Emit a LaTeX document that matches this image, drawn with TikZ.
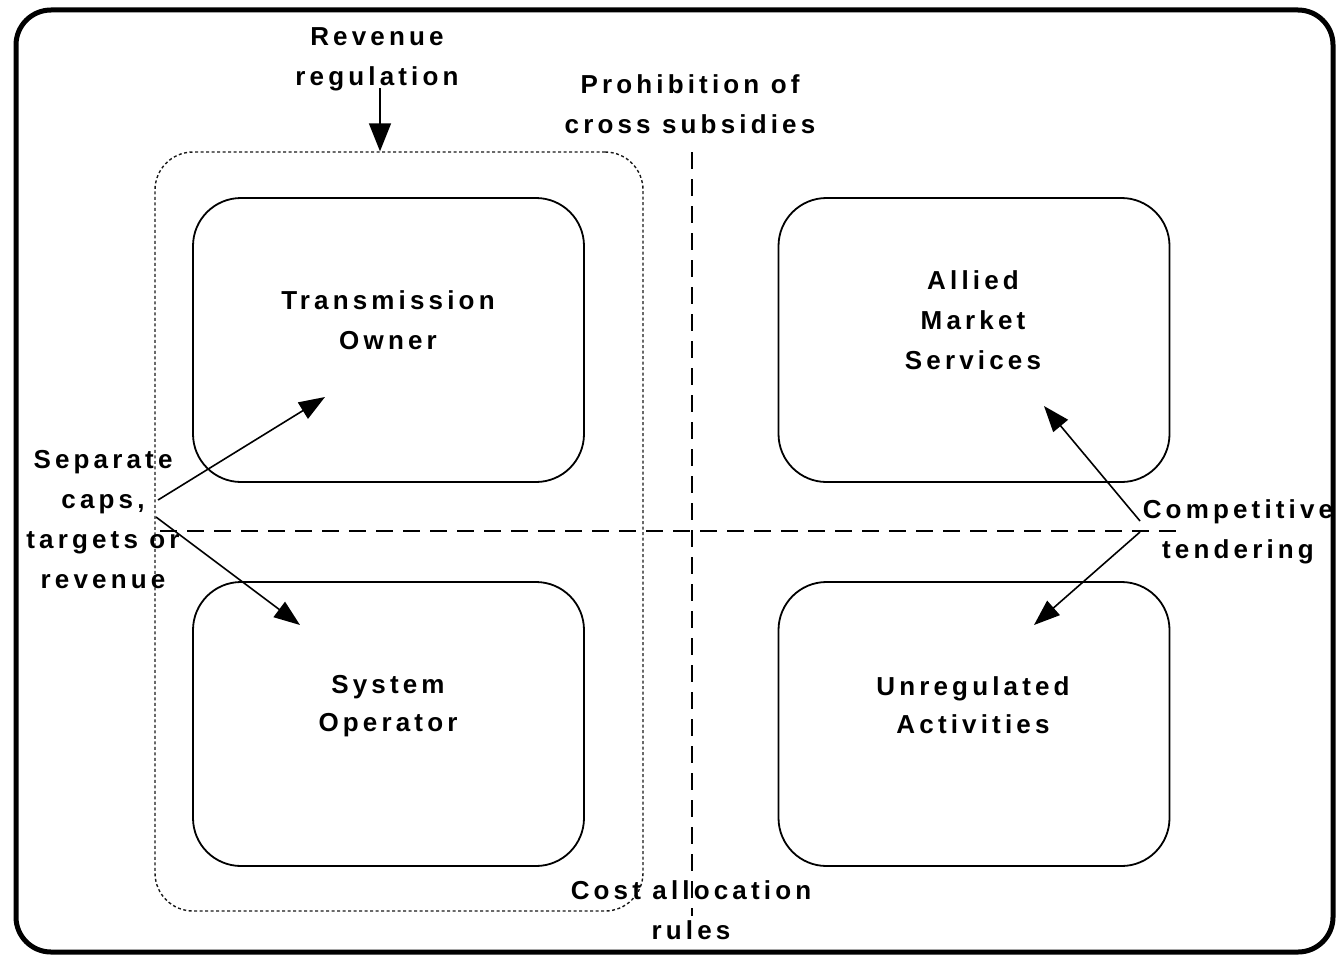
\documentclass[tikz,border=0pt]{standalone}
\usepackage{fontspec}
\setmainfont{Liberation Sans}[LetterSpace=16]
\usetikzlibrary{arrows.meta}
\begin{document}
\begin{tikzpicture}[x=1pt,y=-1pt,
  lbl/.style={inner sep=0pt, align=center, font=\fontsize{26}{40}\selectfont\bfseries},
  unitbox/.style={draw, line width=1.8pt, rounded corners=48pt, minimum width=391pt, minimum height=284pt, inner sep=0pt},
  arr/.style={line width=1.6pt, -{Triangle[length=26pt,width=19pt]}},
  divider/.style={line width=1.8pt, dash pattern=on 17pt off 10pt}
]
\useasboundingbox (0,0) rectangle (1337,958);
% outer frame
\draw[line width=5pt, rounded corners=35pt] (16,10) rectangle (1333,952);
% dotted regulated group
\node[draw, line width=1.4pt, dash pattern=on 3pt off 2.5pt, draw=black!90, rounded corners=38pt,
      minimum width=488pt, minimum height=759pt, inner sep=0pt] (grp) at (399,531.5) {};
% dividers
\coordinate (hL) at (160,531);
\coordinate (hR) at (1182,531);
\coordinate (vT) at (692,152);
\coordinate (vB) at (692,916);
\draw[divider] (hL) -- (hR);
\draw[divider] (vT) -- (vB);
% boxes
\node[unitbox] (to)  at (388.5,340) {};
\node[unitbox] (ams) at (974,340) {};
\node[unitbox] (so)  at (388.5,724) {};
\node[unitbox] (ua)  at (974,724) {};
% box labels
\node[lbl] (toL)  at (388,320.5) {Transmission\\Owner};
\node[lbl] (amsL) at (973,320) {Allied\\Market\\Services};
\node[lbl, font=\fontsize{26}{38}\selectfont\bfseries] (soL) at (388,706) {System\\Operator};
\node[lbl, font=\fontsize{26}{38}\selectfont\bfseries] (uaL) at (973,705) {Unregulated\\Activities};
% annotations
\node[lbl] (rev)  at (377,59.5) {Revenue\\regulation};
\node[lbl] (pro)  at (690,104) {Prohibition of\\cross subsidies};
\node[lbl] (sep)  at (103,519.5) {Separate\\caps,\\targets or\\revenue};
\node[lbl] (comp) at (1238,532) {Competitive\\tendering};
\node[lbl] (cost) at (691,910) {Cost allocation\\rules};
% arrows
\coordinate (revA) at (380,88);
\draw[arr, -{Triangle[length=28pt,width=22pt]}] (revA) -- (revA |- grp.north);
\coordinate (sepA) at (158,500);
\coordinate (sepB) at (156,517);
\coordinate (toT) at (325,397);
\coordinate (soT) at (300,625);
\draw[arr] (sepA) -- (toT);
\draw[arr] (sepB) -- (soT);
\coordinate (compA) at (1140,521);
\coordinate (compB) at (1140,532);
\coordinate (amsT) at (1044,406);
\coordinate (uaT) at (1034,625);
\draw[arr] (compA) -- (amsT);
\draw[arr] (compB) -- (uaT);
\end{tikzpicture}
\end{document}
